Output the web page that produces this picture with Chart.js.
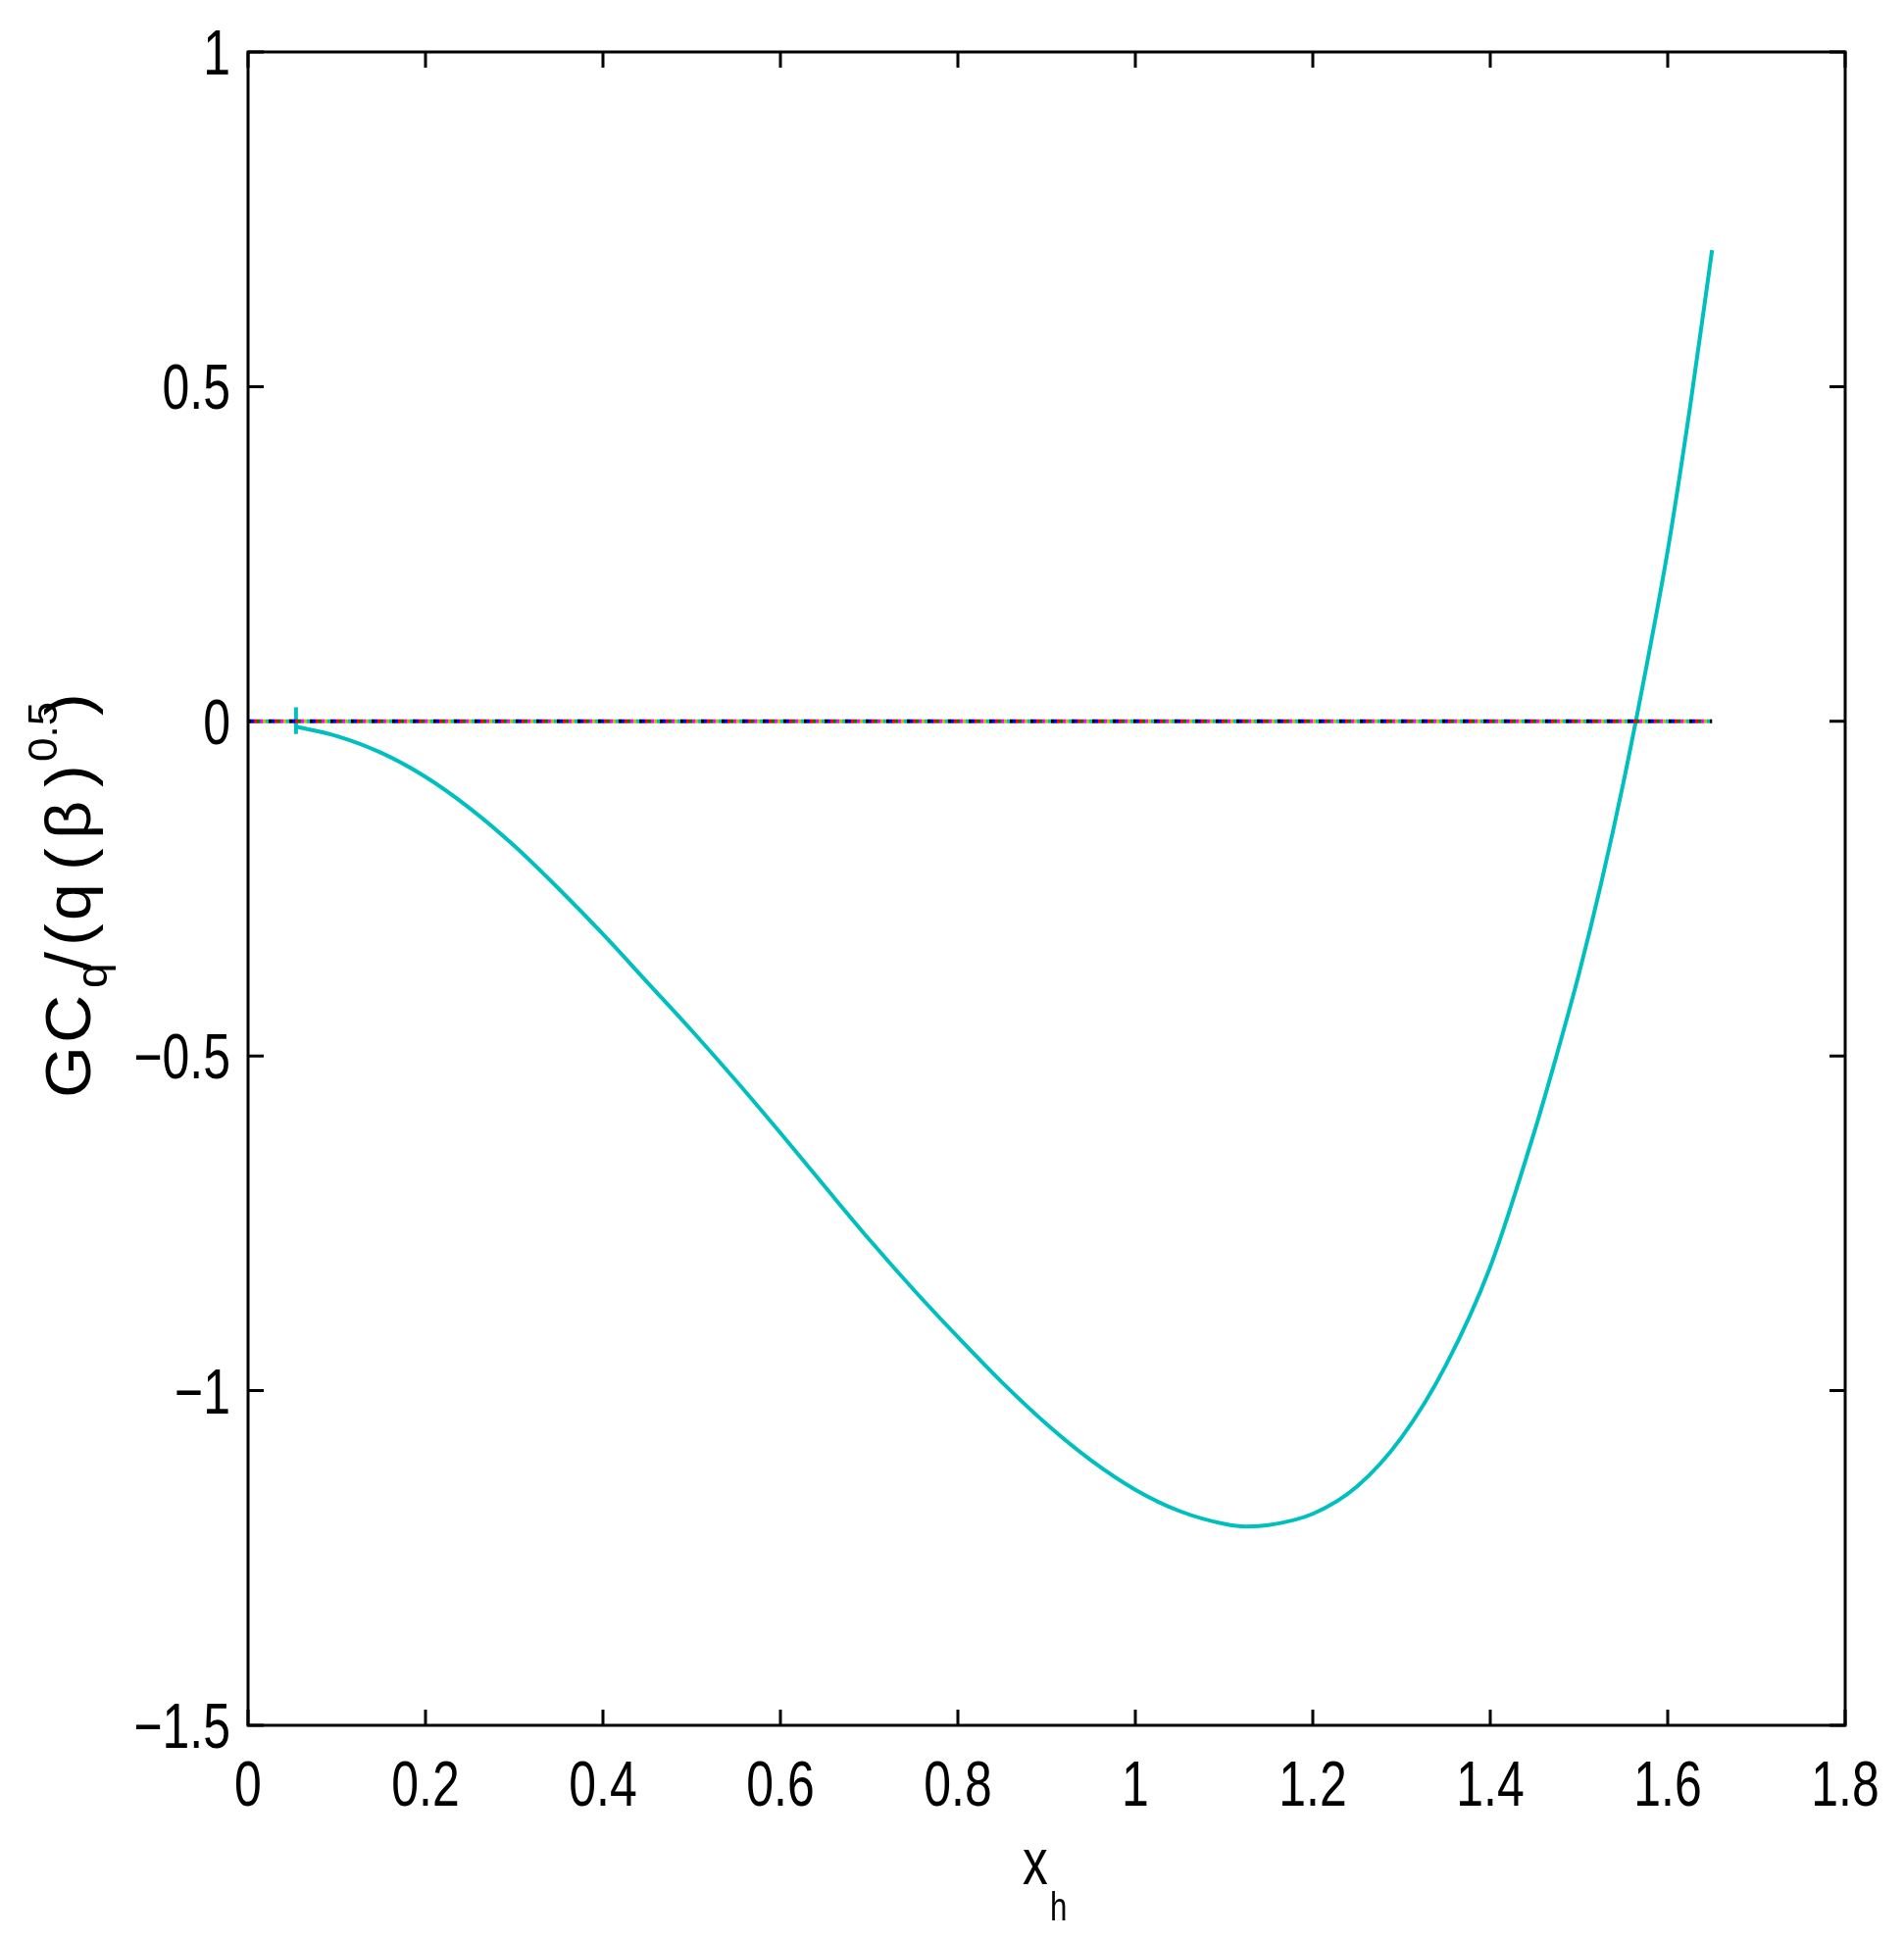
<!DOCTYPE html>
<html>
<head>
<meta charset="utf-8">
<script src="https://cdn.jsdelivr.net/npm/chart.js@4.4.1/dist/chart.umd.min.js"></script>
<style>
    body { margin: 0; background: #fff; }
    #wrap { width: 1942px; height: 1979px; }
</style>
</head>
<body>
<div id="wrap"><canvas id="myChart" width="1942" height="1979"></canvas></div>
<script>
// values
const xh = [0.054, 0.10, 0.15, 0.20, 0.25, 0.30, 0.35, 0.40, 0.45, 0.50, 0.55, 0.60, 0.65, 0.70, 0.75,
    0.80, 0.85, 0.90, 0.95, 1.00, 1.05, 1.10, 1.125, 1.15, 1.20, 1.25, 1.30, 1.35, 1.40, 1.45, 1.475,
    1.50, 1.525, 1.55, 1.575, 1.60, 1.625, 1.65];
const gcq = [-0.008, -0.022, -0.047, -0.083, -0.130, -0.186, -0.250, -0.318, -0.390, -0.462, -0.537, -0.615, -0.695, -0.774, -0.849,
    -0.920, -0.988, -1.050, -1.104, -1.148, -1.180, -1.199, -1.203, -1.201, -1.184, -1.143, -1.070, -0.962, -0.815, -0.612, -0.498,
    -0.377, -0.242, -0.092, 0.075, 0.255, 0.468, 0.704];

// little vertical mark at the start of the curve
const markX = [0.054, 0.054];
const markY = [0.021, -0.019];

// the zero lines (several overlapping series)
const zeroX = [0, 1.65];
const zeroY = [0, 0];
const zeroColors = ['#000000', '#0000ff', '#ff0000', '#008000', '#ff00ff', '#bfbf00', '#00bfbf'];

const xTicks = ['0', '0.2', '0.4', '0.6', '0.8', '1', '1.2', '1.4', '1.6', '1.8'];
const yTicks = ['\u22121.5', '\u22121', '\u22120.5', '0', '0.5', '1'];

const FONT = "'Liberation Sans', Arial, sans-serif";
const SQUEEZE = 0.78; // the reference text is narrow

function pts(xs, ys) {
    return xs.map((x, i) => ({ x: x, y: ys[i] }));
}

const datasets = [];
zeroColors.forEach((c, i) => {
    datasets.push({
        data: pts(zeroX, zeroY),
        borderColor: c,
        borderWidth: 4,
        borderDash: [3, 18],
        borderDashOffset: -i * 3,
        pointRadius: 0,
        fill: false
    });
});
datasets.push({
    data: pts(markX, markY),
    borderColor: '#00bfbf',
    borderWidth: 4,
    pointRadius: 0,
    fill: false
});
datasets.push({
    data: pts(xh, gcq),
    borderColor: '#00bfbf',
    borderWidth: 4,
    pointRadius: 0,
    cubicInterpolationMode: 'monotone',
    fill: false
});

function narrowText(ctx, txt, x, y, size, align) {
    ctx.save();
    ctx.font = size + 'px ' + FONT;
    const w = ctx.measureText(txt).width * SQUEEZE;
    let x0 = x;
    if (align === 'center') x0 = x - w / 2;
    if (align === 'right') x0 = x - w;
    ctx.translate(x0, y);
    ctx.scale(SQUEEZE, 1);
    ctx.textAlign = 'left';
    ctx.textBaseline = 'alphabetic';
    ctx.fillText(txt, 0, 0);
    ctx.restore();
}

// box with inward ticks on all four sides, tick labels, axis titles
const frame = {
    id: 'frame',
    beforeDatasetsDraw(chart) {
        const { ctx, chartArea: a, scales } = chart;
        ctx.save();
        ctx.strokeStyle = '#000';
        ctx.lineWidth = 3;
        ctx.strokeRect(a.left, a.top, a.right - a.left, a.bottom - a.top);
        const tl = 16;
        ctx.beginPath();
        scales.x.ticks.forEach(t => {
            const px = scales.x.getPixelForValue(t.value);
            ctx.moveTo(px, a.bottom); ctx.lineTo(px, a.bottom - tl);
            ctx.moveTo(px, a.top); ctx.lineTo(px, a.top + tl);
        });
        scales.y.ticks.forEach(t => {
            const py = scales.y.getPixelForValue(t.value);
            ctx.moveTo(a.left, py); ctx.lineTo(a.left + tl, py);
            ctx.moveTo(a.right, py); ctx.lineTo(a.right - tl, py);
        });
        ctx.stroke();
        ctx.restore();
    },
    afterDraw(chart) {
        const { ctx, chartArea: a, scales } = chart;
        ctx.save();
        ctx.fillStyle = '#000';

        // tick labels
        scales.x.ticks.forEach((t, i) => {
            narrowText(ctx, xTicks[i], scales.x.getPixelForValue(t.value), a.bottom + 82, 64, 'center');
        });
        scales.y.ticks.forEach((t, i) => {
            narrowText(ctx, yTicks[i], a.left - 18, scales.y.getPixelForValue(t.value) + 23, 64, 'right');
        });

        // x title: x with subscript h
        narrowText(ctx, 'x', 1043, 1922, 66, 'left');
        narrowText(ctx, 'h', 1071, 1959, 40, 'left');

        // y title, rotated; pieces placed along the text
        ctx.translate(92, 1120);
        ctx.rotate(-Math.PI / 2);
        const pieces = [
            ['G', 68, 0, 0],
            ['C', 68, 56, 0],
            ['q', 46, 112, 17],
            ['/', 68, 130, 0],
            ['(', 68, 155, 0],
            ['q', 68, 181, 0],
            ['(', 68, 232, 0],
            ['\u03b2', 68, 264, 0],
            [')', 68, 317, 0],
            ['0.5', 44, 343, -34],
            [')', 68, 390, 0]
        ];
        ctx.textAlign = 'left';
        ctx.textBaseline = 'alphabetic';
        pieces.forEach(p => {
            ctx.save();
            ctx.translate(p[2], p[3]);
            ctx.scale(1, 0.96);
            ctx.font = p[1] + 'px ' + FONT;
            ctx.fillText(p[0], 0, 0);
            ctx.restore();
        });
        ctx.restore();
    }
};

const ctx = document.getElementById('myChart');
new Chart(ctx, {
    type: 'line',
    data: { datasets: datasets },
    options: {
        responsive: false,
        animation: false,
        devicePixelRatio: 1,
        layout: {
            padding: { left: 0, top: 53, right: 60, bottom: 0 }
        },
        plugins: {
            legend: false,
            tooltip: { enabled: false }
        },
        scales: {
            x: {
                type: 'linear',
                min: 0,
                max: 1.8,
                grid: { display: false },
                border: { display: false },
                ticks: { stepSize: 0.2, display: false },
                afterFit: (s) => {
                    s.height = 219;
                    s.paddingLeft = 0; s.paddingRight = 0;
                }
            },
            y: {
                type: 'linear',
                min: -1.5,
                max: 1,
                grid: { display: false },
                border: { display: false },
                ticks: { stepSize: 0.5, display: false },
                afterFit: (s) => {
                    s.width = 253;
                    s.paddingTop = 0; s.paddingBottom = 0;
                }
            }
        }
    },
    plugins: [frame]
});
</script>
</body>
</html>
